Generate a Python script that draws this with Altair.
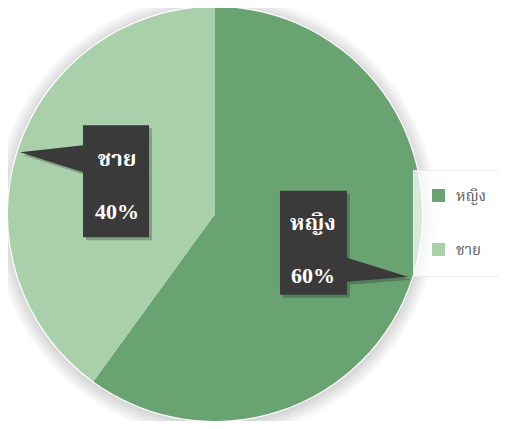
import math
import altair as alt
import pandas as pd

# ---- data ----
categories = ["หญิง", "ชาย"]
values = [60, 40]
pct_labels = ["60%", "40%"]
colors = ["#6aa372", "#a9cfab"]

# ---- geometry (chart coordinates) ----
W, H = 490, 413
CX, CY, R = 207, 206, 207
LABEL_R = 103

callout_paths = {
    "ชาย": "M-34,-57 L32,-57 L32,55 L-34,55 L-34,-10 L-97,-30 L-34,-37 Z",
    "หญิง": "M-33,-55 L34,-55 L34,12 L95,31 L34,36 L34,49 L-33,49 Z",
}

total = sum(values)
rows = []
cum = 0
for i, (c, v, p) in enumerate(zip(categories, values, pct_labels)):
    mid = (cum + v / 2) / total * 2 * math.pi
    cum += v
    rows.append({
        "cat": c, "val": v, "pct": p, "order": i,
        "px": CX + LABEL_R * math.sin(mid),
        "py": CY - LABEL_R * math.cos(mid),
        "shape": callout_paths[c],
    })
df = pd.DataFrame(rows)

thai_font = "Tahoma, 'Noto Serif Thai', 'Noto Sans Thai', Laksaman, Garuda, Loma, 'Liberation Serif', serif"

one = pd.DataFrame({"k": [1]})

# soft shadow (glow) around the pie: stacked faint discs
shadow_layers = []
for j in range(10):
    shadow_layers.append(
        alt.Chart(one).mark_arc(
            theta=0, theta2=2 * math.pi, color="black", opacity=0.017,
            radius=R + 1.5 * (j + 1)
        ).encode(x=alt.value(CX), y=alt.value(CY + 2))
    )
rim = alt.Chart(one).mark_arc(
    theta=0, theta2=2 * math.pi, color="white", radius=R + 1.2
).encode(x=alt.value(CX), y=alt.value(CY))

pie = alt.Chart(df).mark_arc(radius=R).encode(
    theta=alt.Theta("val:Q", stack=True),
    order=alt.Order("order:Q"),
    color=alt.Color(
        "cat:N",
        scale=alt.Scale(domain=categories, range=colors),
        sort=categories,
        legend=alt.Legend(
            title=None,
            orient="none",
            legendX=405,
            legendY=162,
            padding=18,
            symbolType="square",
            symbolSize=170,
            symbolStrokeWidth=0,
            labelFontSize=15,
            labelColor="#595959",
            labelFont=thai_font,
            labelOffset=10,
            rowPadding=38,
            fillColor="rgba(255,255,255,0.75)",
            strokeColor="#ececec",
            cornerRadius=0,
        ),
    ),
    x=alt.value(CX),
    y=alt.value(CY),
)

X = alt.X("px:Q", scale=None, axis=None)
Y = alt.Y("py:Q", scale=None, axis=None)

box_shadow = alt.Chart(df).mark_point(
    filled=True, size=4, color="black", opacity=0.22, strokeWidth=0
).encode(
    x=X, y=Y,
    shape=alt.Shape("shape:N", scale=None),
    xOffset=alt.value(3),
    yOffset=alt.value(3),
)

boxes = alt.Chart(df).mark_point(
    filled=True, size=4, color="#3a3a3a", opacity=1, strokeWidth=0
).encode(
    x=X, y=Y,
    shape=alt.Shape("shape:N", scale=None),
)

names = alt.Chart(df).mark_text(
    color="white", fontSize=22, fontWeight="bold", font=thai_font, dy=-23, baseline="middle"
).encode(x=X, y=Y, text="cat:N")

pcts = alt.Chart(df).mark_text(
    color="white", fontSize=22, fontWeight="bold", font="'Liberation Serif', 'Times New Roman', serif",
    dy=30, baseline="middle"
).encode(x=X, y=Y, text="pct:N")

chart = alt.layer(*shadow_layers, rim, pie, box_shadow, boxes, names, pcts).properties(
    width=W, height=H, padding=0, background="white",
    autosize=alt.AutoSizeParams(type="none"),
).configure_view(strokeWidth=0)

chart.save("out.html", embed_options={"renderer": "svg", "actions": False})
